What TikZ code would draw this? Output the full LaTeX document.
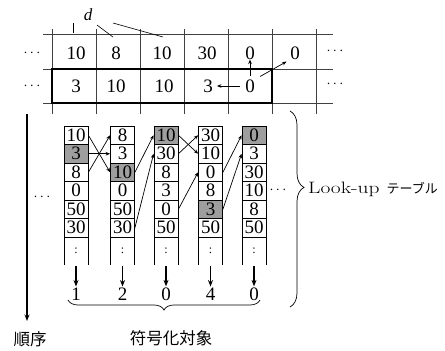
\documentclass[tikz,border=0pt]{standalone}
\usepackage{fontspec}
\newfontfamily\tnr{Liberation Serif}
\newfontfamily\jp{Noto Sans CJK JP}
\usetikzlibrary{arrows.meta,decorations.pathreplacing,calc}
\begin{document}
\begin{tikzpicture}[x=1pt,y=-1pt,
  num/.style={font=\tnr\fontsize{19}{19}\selectfont, inner sep=0pt},
  cell/.style={draw, line width=0.8pt, minimum width=24pt, minimum height=18.5pt, inner sep=0pt, font=\tnr\fontsize{19}{19}\selectfont},
  gridline/.style={line width=0.6pt, black!75},
  arr/.style={line width=0.7pt, -{Stealth[length=4.5pt,width=3.6pt]}},
  bigarr/.style={line width=1.4pt, -{Stealth[length=6.5pt,width=5pt]}},
  dotsnode/.style={font=\fontsize{15}{15}\selectfont, inner sep=0pt},
  jplabel/.style={font=\jp\fontsize{16.5}{16.5}\selectfont, inner sep=0pt},
  bracestyle/.style={decorate, line width=0.7pt},
]
\useasboundingbox (0,0) rectangle (445,351);

% ---- top grid ----
\foreach \y in {34,69,103} \draw[gridline] (43,\y) -- (333,\y);
\foreach \x in {52,96,...,316} \draw[gridline] (\x,29) -- (\x,114);
\draw[line width=1.3pt] (52,69) rectangle (272,103);

\foreach \v/\x [count=\i] in {10/76,8/116,10/162,30/207,0/250,0/295}
  \node[num] (r1c\i) at (\x,53) {\v};
\foreach \v/\x [count=\i] in {3/76,10/116,10/164,3/208,0/250}
  \node[num] (r2c\i) at (\x,86) {\v};

\node[dotsnode] (dl1) at (32,53) {$\cdots$};
\node[dotsnode] (dl2) at (32,86) {$\cdots$};
\node[dotsnode] (dr1) at (335,51) {$\cdots$};
\node[dotsnode] (dr2) at (335,84) {$\cdots$};

% d label and its marks
\node[font=\tnr\itshape\fontsize{17}{17}\selectfont, inner sep=0pt] (dlab) at (88,15) {d};
\draw[line width=0.6pt] (73,23) -- (73,33);
\draw[line width=0.6pt] (97,25) -- (113,37);
\draw[line width=0.6pt] (113,23) -- (163,37);

% arrows in the top grid
\draw[arr, shorten <=5pt, shorten >=4pt] (r2c5.west) -- (r2c4.east);
\draw[arr, shorten <=3pt] (r2c5.north) -- (r1c5.south);
\draw[arr, shorten <=6pt, shorten >=4pt] (r2c5.north east) -- (r1c6.south west);

% ---- look-up tables ----
\foreach \c/\x/\s/\n/\vals in {
  1/76/2/1/{10,3,8,0,50,30},
  2/122.5/3/2/{8,3,10,0,50,30},
  3/166/1/0/{10,30,8,3,0,50},
  4/210.5/5/4/{30,10,0,8,3,50},
  5/254/1/0/{0,3,30,10,8,50}}{
  \foreach \v [count=\r] in \vals {
    \ifnum\r=\s\def\fc{black!38}\else\def\fc{white}\fi
    \node[cell, fill=\fc] (t\c-\r) at (\x,{116.75+18.5*\r}) {\v};
  }
  \draw[line width=0.8pt] ({\x-12},237) -- ({\x-12},265) ({\x+12},237) -- ({\x+12},265);
  \node[font=\tnr\fontsize{12}{12}\selectfont, inner sep=0pt] (col\c) at (\x,251) {:};
  \coordinate (top\c) at (\x,266);
  \node[num] (n\c) at (\x,294) {\n};
  \draw[bigarr, shorten >=1pt] (top\c) -- (n\c.north);
}

\draw[arr] (t1-1.east) -- (t2-3.west);
\draw[arr] (t1-2.east) -- (t2-2.west);
\draw[arr] (t1-3.east) -- (t2-1.west);
\draw[arr] (t2-3.east) -- (t3-1.west);
\draw[arr] (t2-6.east) -- (t3-2.west);
\draw[arr] (t3-1.east) -- (t4-2.west);
\draw[arr] (t3-2.east) -- (t4-1.west);
\draw[arr] (t3-5.east) -- (t4-3.west);
\draw[arr] (t4-3.east) -- (t5-1.west);
\draw[arr] (t4-5.east) -- (t5-2.west);

\node[dotsnode] (dml) at (42,197) {$\cdots$};
\node[dotsnode] (dmr) at (278,190) {$\cdots$};

% braces
\draw[bracestyle, decoration={brace, amplitude=14pt, aspect=0.39}] (290,111) -- (290,307);
\draw[bracestyle, decoration={brace, amplitude=10pt}] (260,300) -- (68,300);

\node[anchor=west, inner sep=0pt] (lut) at (308,189)
  {\fontsize{16.5}{16.5}\selectfont\scalebox{1.3}[1]{Look-up}\hspace{7pt}{\jp\fontsize{13}{13}\selectfont テーブル}};

% order arrow
\coordinate (otop) at (27,114);
\coordinate (obot) at (27,321);
\draw[bigarr] (otop) -- (obot);
\node[jplabel] (ord) at (30,339) {順序};
\node[jplabel] (tgt) at (171,338) {符号化対象};
\end{tikzpicture}
\end{document}
